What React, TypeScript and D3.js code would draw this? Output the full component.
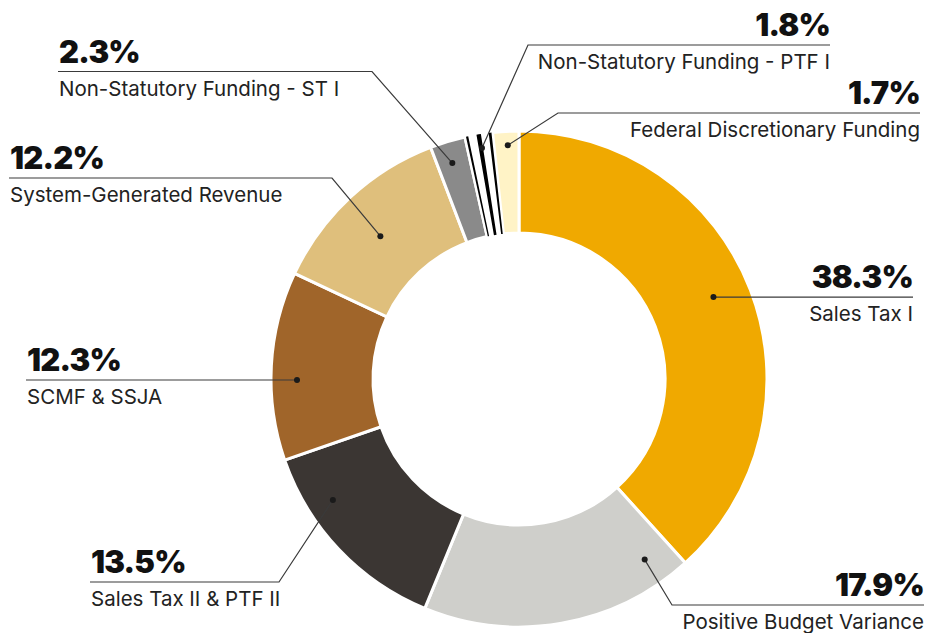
import React from 'react';
import * as d3 from 'd3';

const categories = [
  'Sales Tax I',
  'Positive Budget Variance',
  'Sales Tax II & PTF II',
  'SCMF & SSJA',
  'System-Generated Revenue',
  'Non-Statutory Funding - ST I',
  'Non-Statutory Funding - PTF I',
  'Federal Discretionary Funding',
];
const shares = [38.3, 17.9, 13.5, 12.3, 12.2, 2.3, 1.8, 1.7];
const colors = ['#f0a900', '#cfcfcb', '#3b3633', '#a0652a', '#dfbf7c', '#8a8a8a', '#ffffff', '#fff3c6'];

// label placement: dot inside the slice (t = fraction of slice angle, r = radius),
// optional elbow point, and where the horizontal rule ends
const labelLayout = [
  { t: 0.487, r: 211, elbow: null, endX: 913, side: 'right' },
  { t: 0.113, r: 220, elbow: [672, 605], endX: 924, side: 'right' },
  { t: 0.713, r: 222, elbow: [279, 582], endX: 90, side: 'left' },
  { t: 0.425, r: 222, elbow: null, endX: 26, side: 'left' },
  { t: 0.47, r: 199, elbow: [332, 178], endX: 9, side: 'left' },
  { t: 0.45, r: 226, elbow: [372, 71.5], endX: 58, side: 'left' },
  { t: 0.54, r: 234, elbow: [528, 45], endX: 830, side: 'right' },
  { t: 0.55, r: 234, elbow: [558, 113], endX: 920, side: 'right' },
];

const W = 929;
const H = 633;
const cx = 519;
const cy = 379;
const outerR = 248;
const innerR = 146;

const App: React.FC = () => {
  const pie = d3.pie<number>().sort(null).value(d => d).startAngle(0).endAngle(2 * Math.PI);
  const arcs = pie(shares);
  const arc = d3.arc<d3.PieArcDatum<number>>().innerRadius(innerR).outerRadius(outerR);
  const subArc = d3.arc<{ startAngle: number; endAngle: number }>().innerRadius(innerR).outerRadius(outerR);

  const polar = (a: number, r: number): [number, number] => [cx + r * Math.sin(a), cy - r * Math.cos(a)];

  // the PTF I slice is drawn as black stripes on white
  const stripes = [[0.04, 0.12], [0.42, 0.58], [0.86, 0.96]];
  const ptf = arcs[6];

  return (
    <svg width={W} height={H} style={{ position: 'absolute', left: 0, top: 0, background: '#fff' }}>
      <g transform={`translate(${cx},${cy})`}>
        {arcs.map((a, i) => (
          <path key={i} d={arc(a) || ''} fill={colors[i]} stroke="#fff" strokeWidth={3} />
        ))}
        {stripes.map(([s, e], i) => {
          const span = ptf.endAngle - ptf.startAngle;
          return (
            <path
              key={'s' + i}
              d={subArc({ startAngle: ptf.startAngle + span * s, endAngle: ptf.startAngle + span * e }) || ''}
              fill="#000"
            />
          );
        })}
      </g>
      {arcs.map((a, i) => {
        const L = labelLayout[i];
        const ang = a.startAngle + (a.endAngle - a.startAngle) * L.t;
        const [dx, dy] = polar(ang, L.r);
        const ex = L.elbow ? L.elbow[0] : dx;
        const ey = L.elbow ? L.elbow[1] : dy;
        const pts = `${dx},${dy} ${ex},${ey} ${L.endX},${ey}`;
        const anchor = L.side === 'right' ? 'end' : 'start';
        const tx = L.side === 'right' ? L.endX : L.endX + 1;
        return (
          <g key={'l' + i}>
            <polyline points={pts} fill="none" stroke="#3a3a3a" strokeWidth={1.2} />
            <circle cx={dx} cy={dy} r={3} fill="#1a1a1a" />
            <text
              x={tx}
              y={ey - 9}
              textAnchor={anchor}
              fontFamily="Inter, sans-serif"
              fontWeight={900}
              fontSize={31}
              letterSpacing={-0.8}
              fill="#111"
            >
              {shares[i].toFixed(1)}%
            </text>
            <text
              x={tx}
              y={ey + 24}
              textAnchor={anchor}
              fontFamily="Inter, sans-serif"
              fontWeight={400}
              fontSize={20.5}
              fill="#222"
            >
              {categories[i]}
            </text>
          </g>
        );
      })}
    </svg>
  );
};

export default App;
